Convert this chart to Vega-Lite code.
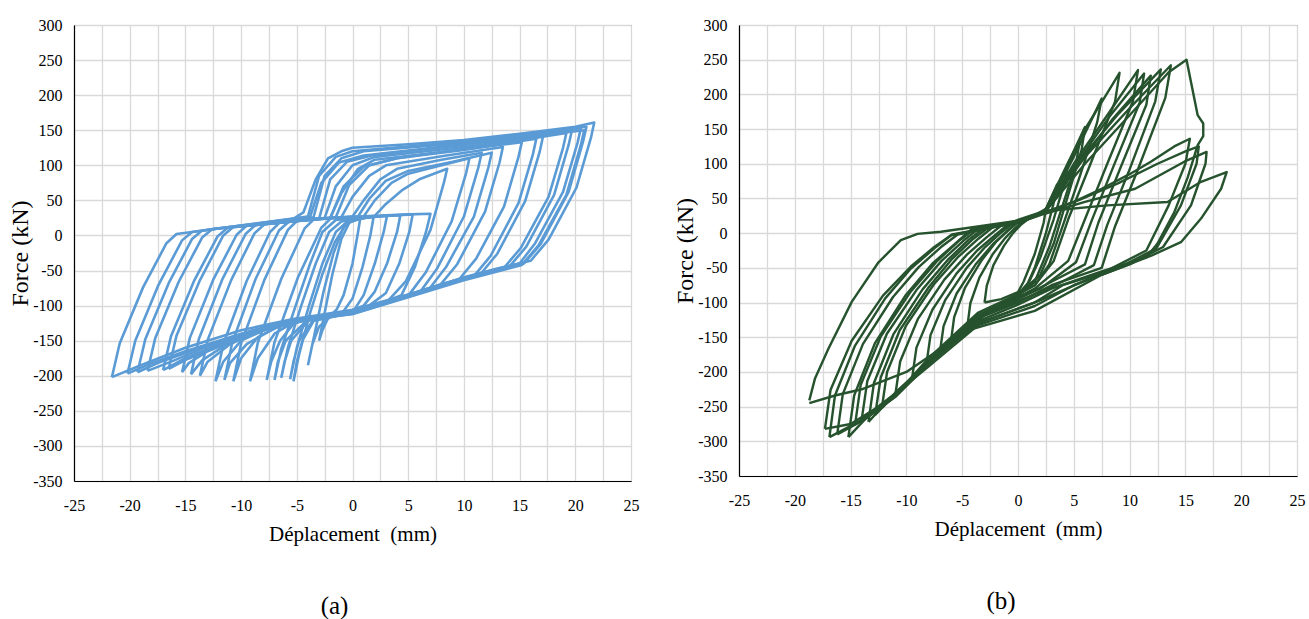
{
"$schema": "https://vega.github.io/schema/vega-lite/v6.json",
"background": "white",
"padding": {"left": 8, "top": 16, "right": 2, "bottom": 5},
"config": {
  "font": "Liberation Serif, Times New Roman, DejaVu Serif, serif",
  "view": {"stroke": "#595959", "strokeWidth": 1},
  "axis": {"labelFont": "Liberation Serif, Times New Roman, DejaVu Serif, serif", "titleFont": "Liberation Serif, Times New Roman, DejaVu Serif, serif", "labelFontSize": 16, "labelColor": "#000", "titleColor": "#000", "titleFontWeight": "normal", "gridColor": "#d9d9d9", "gridWidth": 1.3, "domainColor": "#000", "domainWidth": 1.2, "ticks": false, "labelOverlap": false, "labelFlush": false},
  "title": {"font": "Liberation Serif, Times New Roman, DejaVu Serif, serif", "fontSize": 25, "fontWeight": "normal", "color": "#000"}
},
"datasets": {
"a": [
{"c":1,"x":-3,"y":-150},{"c":1,"x":-2.5,"y":-110},{"c":1,"x":-1.8,"y":-55},{"c":1,"x":-1,"y":-5},{"c":1,"x":-0.3,"y":18},{"c":1,"x":0.7,"y":25},{"c":1,"x":0.5,"y":5},{"c":1,"x":0,"y":-40},{"c":1,"x":-0.8,"y":-85},{"c":1,"x":-1.4,"y":-105},{"c":1,"x":-2.2,"y":-118},{"c":1,"x":-2.7,"y":-135},{"c":1,"x":-3,"y":-150},
{"c":2,"x":-4,"y":-185},{"c":2,"x":-3.4,"y":-140},{"c":2,"x":-2.6,"y":-80},{"c":2,"x":-1.7,"y":-25},{"c":2,"x":-0.8,"y":12},{"c":2,"x":0,"y":22},{"c":2,"x":1.9,"y":27},{"c":2,"x":1.6,"y":0},{"c":2,"x":0.9,"y":-45},{"c":2,"x":0,"y":-90},{"c":2,"x":-0.8,"y":-108},{"c":2,"x":-2,"y":-116},{"c":2,"x":-3,"y":-130},{"c":2,"x":-3.6,"y":-155},{"c":2,"x":-4,"y":-185},
{"c":3,"x":-5.3,"y":-208},{"c":3,"x":-4.8,"y":-170},{"c":3,"x":-3.8,"y":-110},{"c":3,"x":-2.7,"y":-55},{"c":3,"x":-1.6,"y":-10},{"c":3,"x":-0.5,"y":18},{"c":3,"x":1,"y":25},{"c":3,"x":3.1,"y":28},{"c":3,"x":2.8,"y":5},{"c":3,"x":2,"y":-40},{"c":3,"x":1,"y":-85},{"c":3,"x":0.2,"y":-105},{"c":3,"x":-1.5,"y":-115},{"c":3,"x":-3.5,"y":-122},{"c":3,"x":-4.5,"y":-150},{"c":3,"x":-5,"y":-180},{"c":3,"x":-5.3,"y":-208},
{"c":4,"x":-5.6,"y":-205},{"c":4,"x":-5,"y":-160},{"c":4,"x":-3.9,"y":-100},{"c":4,"x":-2.7,"y":-40},{"c":4,"x":-1.5,"y":5},{"c":4,"x":-0.3,"y":22},{"c":4,"x":2,"y":27},{"c":4,"x":4.3,"y":29},{"c":4,"x":4,"y":5},{"c":4,"x":3.1,"y":-40},{"c":4,"x":2,"y":-80},{"c":4,"x":1,"y":-100},{"c":4,"x":-1,"y":-113},{"c":4,"x":-3.5,"y":-120},{"c":4,"x":-4.8,"y":-150},{"c":4,"x":-5.3,"y":-180},{"c":4,"x":-5.6,"y":-205},
{"c":5,"x":-6.4,"y":-203},{"c":5,"x":-5.8,"y":-160},{"c":5,"x":-4.6,"y":-100},{"c":5,"x":-3.3,"y":-40},{"c":5,"x":-2.1,"y":5},{"c":5,"x":-1,"y":20},{"c":5,"x":2,"y":27},{"c":5,"x":5.4,"y":30},{"c":5,"x":5.1,"y":5},{"c":5,"x":4.2,"y":-40},{"c":5,"x":3,"y":-82},{"c":5,"x":1.5,"y":-100},{"c":5,"x":-1,"y":-112},{"c":5,"x":-4,"y":-122},{"c":5,"x":-5.5,"y":-150},{"c":5,"x":-6.1,"y":-180},{"c":5,"x":-6.4,"y":-203},
{"c":6,"x":-7,"y":-206},{"c":6,"x":-6.4,"y":-162},{"c":6,"x":-5.1,"y":-100},{"c":6,"x":-3.8,"y":-40},{"c":6,"x":-2.7,"y":5},{"c":6,"x":-1.5,"y":22},{"c":6,"x":2,"y":28},{"c":6,"x":5,"y":30},{"c":6,"x":7,"y":31},{"c":6,"x":6.6,"y":5},{"c":6,"x":5.6,"y":-45},{"c":6,"x":4.4,"y":-85},{"c":6,"x":2.5,"y":-97},{"c":6,"x":0,"y":-110},{"c":6,"x":-4,"y":-120},{"c":6,"x":-6,"y":-150},{"c":6,"x":-6.7,"y":-180},{"c":6,"x":-7,"y":-206},
{"c":7,"x":-7.7,"y":-206},{"c":7,"x":-7,"y":-152},{"c":7,"x":-4.9,"y":-60},{"c":7,"x":-2.8,"y":11},{"c":7,"x":-1.9,"y":25},{"c":7,"x":2,"y":28},{"c":7,"x":3,"y":45},{"c":7,"x":4.5,"y":65},{"c":7,"x":6,"y":80},{"c":7,"x":8.5,"y":95},{"c":7,"x":8.2,"y":75},{"c":7,"x":7,"y":8},{"c":7,"x":4.8,"y":-65},{"c":7,"x":3.2,"y":-93},{"c":7,"x":0,"y":-108},{"c":7,"x":-3,"y":-116},{"c":7,"x":-5,"y":-120},{"c":7,"x":-6.5,"y":-150},{"c":7,"x":-7.3,"y":-180},{"c":7,"x":-7.7,"y":-206},
{"c":8,"x":-9.2,"y":-208},{"c":8,"x":-8.5,"y":-153},{"c":8,"x":-6.4,"y":-62},{"c":8,"x":-4.3,"y":10},{"c":8,"x":-3.4,"y":24},{"c":8,"x":1,"y":27},{"c":8,"x":2,"y":50},{"c":8,"x":3.5,"y":75},{"c":8,"x":5,"y":88},{"c":8,"x":8,"y":100},{"c":8,"x":10.5,"y":110},{"c":8,"x":10.2,"y":89},{"c":8,"x":8.9,"y":20},{"c":8,"x":6.6,"y":-52},{"c":8,"x":5.1,"y":-84},{"c":8,"x":2.5,"y":-98},{"c":8,"x":0,"y":-110},{"c":8,"x":-3,"y":-117},{"c":8,"x":-5,"y":-121},{"c":8,"x":-7,"y":-140},{"c":8,"x":-8.5,"y":-175},{"c":8,"x":-9.2,"y":-208},
{"c":9,"x":-10.7,"y":-208},{"c":9,"x":-10,"y":-154},{"c":9,"x":-7.9,"y":-63},{"c":9,"x":-5.8,"y":8},{"c":9,"x":-4.9,"y":22},{"c":9,"x":0,"y":27},{"c":9,"x":1,"y":50},{"c":9,"x":2.5,"y":80},{"c":9,"x":4,"y":95},{"c":9,"x":8,"y":108},{"c":9,"x":11.6,"y":118},{"c":9,"x":11.3,"y":97},{"c":9,"x":10,"y":27},{"c":9,"x":7.6,"y":-47},{"c":9,"x":6.1,"y":-80},{"c":9,"x":3,"y":-95},{"c":9,"x":0,"y":-109},{"c":9,"x":-4,"y":-119},{"c":9,"x":-6,"y":-125},{"c":9,"x":-8.5,"y":-145},{"c":9,"x":-10,"y":-175},{"c":9,"x":-10.7,"y":-208},
{"c":10,"x":-12.3,"y":-208},{"c":10,"x":-11.6,"y":-155},{"c":10,"x":-9.5,"y":-65},{"c":10,"x":-7.4,"y":5},{"c":10,"x":-6.5,"y":19},{"c":10,"x":-1,"y":26},{"c":10,"x":0,"y":55},{"c":10,"x":1.5,"y":85},{"c":10,"x":3,"y":100},{"c":10,"x":8,"y":113},{"c":10,"x":13.5,"y":126},{"c":10,"x":13.2,"y":104},{"c":10,"x":11.9,"y":34},{"c":10,"x":9.4,"y":-41},{"c":10,"x":7.9,"y":-70},{"c":10,"x":4,"y":-90},{"c":10,"x":0,"y":-108},{"c":10,"x":-4,"y":-118},{"c":10,"x":-7,"y":-128},{"c":10,"x":-10,"y":-150},{"c":10,"x":-11.6,"y":-180},{"c":10,"x":-12.3,"y":-208},
{"c":11,"x":-13.7,"y":-200},{"c":11,"x":-13,"y":-149},{"c":11,"x":-10.9,"y":-64},{"c":11,"x":-8.8,"y":3},{"c":11,"x":-7.9,"y":16},{"c":11,"x":-2,"y":25},{"c":11,"x":-1,"y":60},{"c":11,"x":0.5,"y":95},{"c":11,"x":2,"y":108},{"c":11,"x":8,"y":119},{"c":11,"x":15.2,"y":133},{"c":11,"x":14.9,"y":112},{"c":11,"x":13.6,"y":41},{"c":11,"x":11.1,"y":-33},{"c":11,"x":9.6,"y":-62},{"c":11,"x":5,"y":-86},{"c":11,"x":0,"y":-109},{"c":11,"x":-5,"y":-120},{"c":11,"x":-8,"y":-133},{"c":11,"x":-11,"y":-155},{"c":11,"x":-13,"y":-180},{"c":11,"x":-13.7,"y":-200},
{"c":12,"x":-15.3,"y":-195},{"c":12,"x":-14.6,"y":-146},{"c":12,"x":-12.5,"y":-63},{"c":12,"x":-10.4,"y":1},{"c":12,"x":-9.5,"y":14},{"c":12,"x":-2.5,"y":25},{"c":12,"x":-1.5,"y":70},{"c":12,"x":0,"y":100},{"c":12,"x":2,"y":112},{"c":12,"x":10,"y":126},{"c":12,"x":17.1,"y":141},{"c":12,"x":16.8,"y":119},{"c":12,"x":15.5,"y":49},{"c":12,"x":13,"y":-26},{"c":12,"x":11.5,"y":-55},{"c":12,"x":7,"y":-76},{"c":12,"x":2,"y":-100},{"c":12,"x":-2,"y":-114},{"c":12,"x":-6,"y":-125},{"c":12,"x":-10,"y":-145},{"c":12,"x":-13,"y":-165},{"c":12,"x":-14.7,"y":-182},{"c":12,"x":-15.3,"y":-195},
{"c":13,"x":-17,"y":-192},{"c":13,"x":-16.3,"y":-144},{"c":13,"x":-14.2,"y":-64},{"c":13,"x":-12.1,"y":-1},{"c":13,"x":-11.2,"y":11},{"c":13,"x":-3,"y":24},{"c":13,"x":-2,"y":80},{"c":13,"x":-0.5,"y":105},{"c":13,"x":2,"y":115},{"c":13,"x":10,"y":129},{"c":13,"x":19.7,"y":150},{"c":13,"x":19.4,"y":129},{"c":13,"x":18.1,"y":58},{"c":13,"x":15.6,"y":-16},{"c":13,"x":14.1,"y":-44},{"c":13,"x":10,"y":-62},{"c":13,"x":5,"y":-86},{"c":13,"x":0,"y":-110},{"c":13,"x":-4,"y":-118},{"c":13,"x":-8,"y":-132},{"c":13,"x":-12,"y":-155},{"c":13,"x":-15,"y":-175},{"c":13,"x":-17,"y":-192},
{"c":14,"x":-18.4,"y":-193},{"c":14,"x":-17.7,"y":-146},{"c":14,"x":-15.6,"y":-66},{"c":14,"x":-13.5,"y":-3},{"c":14,"x":-12.6,"y":9},{"c":14,"x":-3.5,"y":26},{"c":14,"x":-2.5,"y":85},{"c":14,"x":-1,"y":110},{"c":14,"x":1,"y":120},{"c":14,"x":10,"y":132},{"c":14,"x":20.5,"y":153},{"c":14,"x":20.2,"y":132},{"c":14,"x":18.9,"y":62},{"c":14,"x":16.4,"y":-11},{"c":14,"x":15,"y":-40},{"c":14,"x":10,"y":-60},{"c":14,"x":5,"y":-84},{"c":14,"x":0,"y":-106},{"c":14,"x":-4,"y":-116},{"c":14,"x":-9,"y":-135},{"c":14,"x":-13,"y":-158},{"c":14,"x":-16,"y":-178},{"c":14,"x":-18.4,"y":-193},
{"c":15,"x":-20.2,"y":-197},{"c":15,"x":-19.5,"y":-150},{"c":15,"x":-17.4,"y":-70},{"c":15,"x":-15.3,"y":-7},{"c":15,"x":-14.4,"y":5},{"c":15,"x":-4,"y":27},{"c":15,"x":-3,"y":85},{"c":15,"x":-1.5,"y":112},{"c":15,"x":0,"y":120},{"c":15,"x":10,"y":134},{"c":15,"x":21,"y":155},{"c":15,"x":20.7,"y":134},{"c":15,"x":19.4,"y":62},{"c":15,"x":16.9,"y":-12},{"c":15,"x":15.4,"y":-40},{"c":15,"x":10,"y":-62},{"c":15,"x":5,"y":-87},{"c":15,"x":0,"y":-110},{"c":15,"x":-4,"y":-118},{"c":15,"x":-10,"y":-140},{"c":15,"x":-15,"y":-165},{"c":15,"x":-18,"y":-182},{"c":15,"x":-20.2,"y":-197},
{"c":16,"x":-21.6,"y":-202},{"c":16,"x":-20.9,"y":-154},{"c":16,"x":-18.8,"y":-74},{"c":16,"x":-16.7,"y":-11},{"c":16,"x":-15.8,"y":2},{"c":16,"x":-12,"y":10},{"c":16,"x":-8,"y":16},{"c":16,"x":-5.5,"y":22},{"c":16,"x":-4.4,"y":33},{"c":16,"x":-3.3,"y":80},{"c":16,"x":-2.2,"y":110},{"c":16,"x":-1,"y":120},{"c":16,"x":0,"y":125},{"c":16,"x":5,"y":130},{"c":16,"x":10,"y":136},{"c":16,"x":15,"y":145},{"c":16,"x":20,"y":155},{"c":16,"x":21.7,"y":161},{"c":16,"x":21.4,"y":139},{"c":16,"x":20.1,"y":68},{"c":16,"x":17.6,"y":-6},{"c":16,"x":16,"y":-36},{"c":16,"x":13,"y":-47},{"c":16,"x":10,"y":-60},{"c":16,"x":5,"y":-85},{"c":16,"x":0,"y":-108},{"c":16,"x":-3,"y":-115},{"c":16,"x":-5,"y":-118},{"c":16,"x":-10,"y":-135},{"c":16,"x":-15,"y":-160},{"c":16,"x":-19,"y":-185},{"c":16,"x":-21.6,"y":-202},
{"c":17,"x":-16.5,"y":-190},{"c":17,"x":-15.8,"y":-143},{"c":17,"x":-13.7,"y":-64},{"c":17,"x":-11.6,"y":0},{"c":17,"x":-10.7,"y":12},{"c":17,"x":-2,"y":25},{"c":17,"x":-0.8,"y":70},{"c":17,"x":1,"y":98},{"c":17,"x":4,"y":110},{"c":17,"x":12,"y":128},{"c":17,"x":19.2,"y":146},{"c":17,"x":18.9,"y":125},{"c":17,"x":17.6,"y":55},{"c":17,"x":15.1,"y":-18},{"c":17,"x":13.6,"y":-46},{"c":17,"x":9,"y":-66},{"c":17,"x":4,"y":-92},{"c":17,"x":0,"y":-112},{"c":17,"x":-4,"y":-120},{"c":17,"x":-8,"y":-135},{"c":17,"x":-12,"y":-158},{"c":17,"x":-14.8,"y":-176},{"c":17,"x":-16.5,"y":-190},
{"c":18,"x":-14.5,"y":-198},{"c":18,"x":-13.8,"y":-148},{"c":18,"x":-11.7,"y":-63},{"c":18,"x":-9.6,"y":2},{"c":18,"x":-8.7,"y":15},{"c":18,"x":-1.5,"y":26},{"c":18,"x":-0.3,"y":72},{"c":18,"x":1.5,"y":100},{"c":18,"x":4,"y":110},{"c":18,"x":10,"y":122},{"c":18,"x":16.5,"y":138},{"c":18,"x":16.2,"y":116},{"c":18,"x":14.9,"y":46},{"c":18,"x":12.4,"y":-29},{"c":18,"x":10.9,"y":-58},{"c":18,"x":6,"y":-80},{"c":18,"x":1,"y":-104},{"c":18,"x":-3,"y":-116},{"c":18,"x":-7,"y":-130},{"c":18,"x":-11,"y":-152},{"c":18,"x":-13.5,"y":-178},{"c":18,"x":-14.5,"y":-198},
{"c":19,"x":-11.5,"y":-206},{"c":19,"x":-10.8,"y":-153},{"c":19,"x":-8.7,"y":-62},{"c":19,"x":-6.6,"y":7},{"c":19,"x":-5.7,"y":20},{"c":19,"x":0.5,"y":27},{"c":19,"x":1.5,"y":52},{"c":19,"x":3,"y":78},{"c":19,"x":5,"y":92},{"c":19,"x":9,"y":105},{"c":19,"x":12.5,"y":118},{"c":19,"x":12.2,"y":97},{"c":19,"x":10.9,"y":27},{"c":19,"x":8.4,"y":-45},{"c":19,"x":6.9,"y":-76},{"c":19,"x":3,"y":-96},{"c":19,"x":0,"y":-110},{"c":19,"x":-4,"y":-120},{"c":19,"x":-7,"y":-132},{"c":19,"x":-9.5,"y":-155},{"c":19,"x":-11,"y":-182},{"c":19,"x":-11.5,"y":-206},
{"c":20,"x":-19.3,"y":-195},{"c":20,"x":-18.6,"y":-148},{"c":20,"x":-16.5,"y":-68},{"c":20,"x":-14.4,"y":-5},{"c":20,"x":-13.5,"y":7},{"c":20,"x":-3.8,"y":27},{"c":20,"x":-2.8,"y":75},{"c":20,"x":-1.2,"y":104},{"c":20,"x":1,"y":114},{"c":20,"x":10,"y":130},{"c":20,"x":20.8,"y":150},{"c":20,"x":20.5,"y":129},{"c":20,"x":19.2,"y":58},{"c":20,"x":16.7,"y":-14},{"c":20,"x":15.2,"y":-42},{"c":20,"x":10,"y":-64},{"c":20,"x":5,"y":-88},{"c":20,"x":0,"y":-112},{"c":20,"x":-4,"y":-120},{"c":20,"x":-9,"y":-138},{"c":20,"x":-14,"y":-162},{"c":20,"x":-17.5,"y":-182},{"c":20,"x":-19.3,"y":-195}
],
"b": [
{"c":1,"x":-3,"y":-100},{"c":1,"x":-2.8,"y":-76},{"c":1,"x":-2.2,"y":-46},{"c":1,"x":-1.25,"y":-18},{"c":1,"x":-0.45,"y":0},{"c":1,"x":0.25,"y":12},{"c":1,"x":0.8,"y":19},{"c":1,"x":2.5,"y":35},{"c":1,"x":2.3,"y":15},{"c":1,"x":1.5,"y":-30},{"c":1,"x":0.5,"y":-70},{"c":1,"x":0,"y":-85},{"c":1,"x":-1.5,"y":-95},{"c":1,"x":-3,"y":-100},
{"c":2,"x":-4.5,"y":-130},{"c":2,"x":-4.27,"y":-101},{"c":2,"x":-3.46,"y":-64},{"c":2,"x":-2.25,"y":-30},{"c":2,"x":-1.2,"y":-8},{"c":2,"x":-0.3,"y":7},{"c":2,"x":0.4,"y":17},{"c":2,"x":2.4,"y":30},{"c":2,"x":3,"y":52},{"c":2,"x":3.5,"y":70},{"c":2,"x":3.3,"y":50},{"c":2,"x":2.5,"y":0},{"c":2,"x":1.5,"y":-50},{"c":2,"x":0.8,"y":-75},{"c":2,"x":0,"y":-90},{"c":2,"x":-2,"y":-108},{"c":2,"x":-3.5,"y":-122},{"c":2,"x":-4.5,"y":-130},
{"c":3,"x":-6,"y":-155},{"c":3,"x":-5.72,"y":-121},{"c":3,"x":-4.73,"y":-78},{"c":3,"x":-3.25,"y":-39},{"c":3,"x":-2,"y":-13},{"c":3,"x":-0.9,"y":4},{"c":3,"x":-0.1,"y":16},{"c":3,"x":2.4,"y":30},{"c":3,"x":3.5,"y":65},{"c":3,"x":4.5,"y":100},{"c":3,"x":4.2,"y":75},{"c":3,"x":3.2,"y":20},{"c":3,"x":2,"y":-35},{"c":3,"x":1,"y":-70},{"c":3,"x":0,"y":-88},{"c":3,"x":-2,"y":-106},{"c":3,"x":-4,"y":-128},{"c":3,"x":-6,"y":-155},
{"c":4,"x":-7,"y":-172},{"c":4,"x":-6.67,"y":-134},{"c":4,"x":-5.5,"y":-87},{"c":4,"x":-3.75,"y":-44},{"c":4,"x":-2.25,"y":-16},{"c":4,"x":-0.95,"y":3},{"c":4,"x":0,"y":16},{"c":4,"x":2.4,"y":30},{"c":4,"x":4,"y":80},{"c":4,"x":5.5,"y":130},{"c":4,"x":5.2,"y":100},{"c":4,"x":4,"y":40},{"c":4,"x":2.8,"y":-20},{"c":4,"x":1.5,"y":-70},{"c":4,"x":0,"y":-90},{"c":4,"x":-2,"y":-107},{"c":4,"x":-4,"y":-130},{"c":4,"x":-5.5,"y":-150},{"c":4,"x":-7,"y":-172},
{"c":5,"x":-8.2,"y":-188},{"c":5,"x":-7.84,"y":-147},{"c":5,"x":-6.54,"y":-97},{"c":5,"x":-4.6,"y":-50},{"c":5,"x":-2.94,"y":-20},{"c":5,"x":-1.5,"y":1},{"c":5,"x":-0.42,"y":15},{"c":5,"x":2.4,"y":30},{"c":5,"x":4.2,"y":90},{"c":5,"x":6,"y":153},{"c":5,"x":5.7,"y":120},{"c":5,"x":4.5,"y":55},{"c":5,"x":3.2,"y":-15},{"c":5,"x":2,"y":-60},{"c":5,"x":0,"y":-88},{"c":5,"x":-2,"y":-106},{"c":5,"x":-4,"y":-130},{"c":5,"x":-6,"y":-158},{"c":5,"x":-8.2,"y":-188},
{"c":6,"x":-9.5,"y":-210},{"c":6,"x":-9.1,"y":-165},{"c":6,"x":-7.66,"y":-110},{"c":6,"x":-5.5,"y":-58},{"c":6,"x":-3.66,"y":-25},{"c":6,"x":-2.06,"y":-3},{"c":6,"x":-0.86,"y":13},{"c":6,"x":2.4,"y":30},{"c":6,"x":5,"y":110},{"c":6,"x":7.5,"y":194},{"c":6,"x":7.1,"y":160},{"c":6,"x":5.5,"y":80},{"c":6,"x":4,"y":10},{"c":6,"x":2.8,"y":-45},{"c":6,"x":1.5,"y":-75},{"c":6,"x":0,"y":-88},{"c":6,"x":-3.6,"y":-120},{"c":6,"x":-6.5,"y":-165},{"c":6,"x":-9.5,"y":-210},
{"c":7,"x":-11,"y":-234},{"c":7,"x":-10.56,"y":-185},{"c":7,"x":-8.98,"y":-124},{"c":7,"x":-6.6,"y":-67},{"c":7,"x":-4.58,"y":-31},{"c":7,"x":-2.82,"y":-6},{"c":7,"x":-1.5,"y":11},{"c":7,"x":2.4,"y":32},{"c":7,"x":4.5,"y":102},{"c":7,"x":6,"y":150},{"c":7,"x":7.5,"y":189},{"c":7,"x":9.1,"y":231},{"c":7,"x":8.7,"y":190},{"c":7,"x":6.5,"y":100},{"c":7,"x":4.5,"y":20},{"c":7,"x":3.2,"y":-40},{"c":7,"x":1.5,"y":-75},{"c":7,"x":0,"y":-88},{"c":7,"x":-3.6,"y":-115},{"c":7,"x":-8,"y":-180},{"c":7,"x":-11,"y":-234},
{"c":8,"x":-12.2,"y":-252},{"c":8,"x":-11.73,"y":-200},{"c":8,"x":-10.06,"y":-134},{"c":8,"x":-7.55,"y":-74},{"c":8,"x":-5.41,"y":-35},{"c":8,"x":-3.55,"y":-8},{"c":8,"x":-2.16,"y":10},{"c":8,"x":0,"y":16},{"c":8,"x":2.4,"y":30},{"c":8,"x":5,"y":100},{"c":8,"x":8,"y":170},{"c":8,"x":10.75,"y":235},{"c":8,"x":10.3,"y":190},{"c":8,"x":8,"y":100},{"c":8,"x":6,"y":20},{"c":8,"x":4.5,"y":-40},{"c":8,"x":1.5,"y":-80},{"c":8,"x":0,"y":-92},{"c":8,"x":-3.6,"y":-118},{"c":8,"x":-8,"y":-184},{"c":8,"x":-12.2,"y":-252},
{"c":9,"x":-13.4,"y":-272},{"c":9,"x":-12.91,"y":-216},{"c":9,"x":-11.17,"y":-146},{"c":9,"x":-8.55,"y":-81},{"c":9,"x":-6.32,"y":-39},{"c":9,"x":-4.38,"y":-9},{"c":9,"x":-2.92,"y":9},{"c":9,"x":0,"y":16},{"c":9,"x":2.4,"y":30},{"c":9,"x":5.5,"y":100},{"c":9,"x":8.5,"y":165},{"c":9,"x":11.9,"y":227},{"c":9,"x":11.5,"y":185},{"c":9,"x":9.2,"y":95},{"c":9,"x":7.2,"y":15},{"c":9,"x":6,"y":-45},{"c":9,"x":3,"y":-70},{"c":9,"x":0,"y":-95},{"c":9,"x":-3.6,"y":-120},{"c":9,"x":-8,"y":-186},{"c":9,"x":-11,"y":-230},{"c":9,"x":-13.4,"y":-272},
{"c":10,"x":-14.6,"y":-276},{"c":10,"x":-14.1,"y":-219},{"c":10,"x":-12.3,"y":-149},{"c":10,"x":-9.6,"y":-84},{"c":10,"x":-7.3,"y":-41},{"c":10,"x":-5.3,"y":-11},{"c":10,"x":-3.8,"y":7},{"c":10,"x":0,"y":16},{"c":10,"x":2.4,"y":30},{"c":10,"x":6,"y":110},{"c":10,"x":10,"y":180},{"c":10,"x":13.7,"y":242},{"c":10,"x":13.2,"y":195},{"c":10,"x":10.7,"y":90},{"c":10,"x":8.7,"y":10},{"c":10,"x":7.5,"y":-50},{"c":10,"x":3,"y":-75},{"c":10,"x":0,"y":-100},{"c":10,"x":-3.6,"y":-123},{"c":10,"x":-8,"y":-186},{"c":10,"x":-11,"y":-232},{"c":10,"x":-14.6,"y":-276},
{"c":11,"x":-15.2,"y":-294},{"c":11,"x":-14.68,"y":-234},{"c":11,"x":-12.83,"y":-159},{"c":11,"x":-10.05,"y":-89},{"c":11,"x":-7.68,"y":-44},{"c":11,"x":-5.62,"y":-15},{"c":11,"x":-4.08,"y":7},{"c":11,"x":0,"y":16},{"c":11,"x":2.4,"y":30},{"c":11,"x":6,"y":100},{"c":11,"x":10,"y":170},{"c":11,"x":13.5,"y":232},{"c":11,"x":15.1,"y":250},{"c":11,"x":16.1,"y":170},{"c":11,"x":16.6,"y":158},{"c":11,"x":16.6,"y":140},{"c":11,"x":16.1,"y":127},{"c":11,"x":15.2,"y":80},{"c":11,"x":14,"y":30},{"c":11,"x":12.5,"y":-15},{"c":11,"x":11.5,"y":-35},{"c":11,"x":7.5,"y":-55},{"c":11,"x":3,"y":-80},{"c":11,"x":0,"y":-103},{"c":11,"x":-3.6,"y":-127},{"c":11,"x":-8,"y":-188},{"c":11,"x":-11,"y":-236},{"c":11,"x":-13.7,"y":-268},{"c":11,"x":-15.2,"y":-294},
{"c":12,"x":-16.9,"y":-294},{"c":12,"x":-16.4,"y":-234},{"c":12,"x":-14.6,"y":-162},{"c":12,"x":-11.9,"y":-94},{"c":12,"x":-9.6,"y":-51},{"c":12,"x":-7.5,"y":-22},{"c":12,"x":-6,"y":-3},{"c":12,"x":0,"y":16},{"c":12,"x":2.4,"y":30},{"c":12,"x":5,"y":45},{"c":12,"x":7.5,"y":64},{"c":12,"x":10,"y":85},{"c":12,"x":11.9,"y":103},{"c":12,"x":14,"y":125},{"c":12,"x":15.4,"y":136},{"c":12,"x":15,"y":100},{"c":12,"x":13.5,"y":40},{"c":12,"x":11.5,"y":-25},{"c":12,"x":7.5,"y":-58},{"c":12,"x":1.8,"y":-98},{"c":12,"x":-3.6,"y":-130},{"c":12,"x":-8.1,"y":-186},{"c":12,"x":-11,"y":-234},{"c":12,"x":-13.7,"y":-267},{"c":12,"x":-16.9,"y":-294},
{"c":13,"x":-17.3,"y":-282},{"c":13,"x":-16.8,"y":-226},{"c":13,"x":-14.9,"y":-155},{"c":13,"x":-12.1,"y":-90},{"c":13,"x":-9.6,"y":-48},{"c":13,"x":-7.5,"y":-20},{"c":13,"x":-5.9,"y":-2},{"c":13,"x":0,"y":15},{"c":13,"x":2.4,"y":28},{"c":13,"x":6,"y":45},{"c":13,"x":10.5,"y":64},{"c":13,"x":14.9,"y":103},{"c":13,"x":16.9,"y":117},{"c":13,"x":16.8,"y":100},{"c":13,"x":15.5,"y":40},{"c":13,"x":13,"y":-20},{"c":13,"x":10,"y":-45},{"c":13,"x":5,"y":-75},{"c":13,"x":1.5,"y":-105},{"c":13,"x":-3.6,"y":-133},{"c":13,"x":-8,"y":-192},{"c":13,"x":-12,"y":-245},{"c":13,"x":-15,"y":-275},{"c":13,"x":-17.3,"y":-282},
{"c":14,"x":-18.7,"y":-241},{"c":14,"x":-18.2,"y":-210},{"c":14,"x":-17,"y":-167},{"c":14,"x":-14.9,"y":-99},{"c":14,"x":-12.5,"y":-42},{"c":14,"x":-10.5,"y":-10},{"c":14,"x":-9,"y":-1},{"c":14,"x":-6.9,"y":2},{"c":14,"x":0,"y":18},{"c":14,"x":1.8,"y":26},{"c":14,"x":2.6,"y":32},{"c":14,"x":8,"y":40},{"c":14,"x":13.4,"y":45},{"c":14,"x":16.4,"y":74},{"c":14,"x":18.7,"y":88},{"c":14,"x":18.2,"y":64},{"c":14,"x":16.4,"y":21},{"c":14,"x":14.6,"y":-13},{"c":14,"x":12,"y":-32},{"c":14,"x":7.5,"y":-60},{"c":14,"x":1.5,"y":-112},{"c":14,"x":-4.5,"y":-140},{"c":14,"x":-10,"y":-200},{"c":14,"x":-14,"y":-225},{"c":14,"x":-16.4,"y":-234},{"c":14,"x":-18.7,"y":-245},
{"c":15,"x":-14,"y":-268},{"c":15,"x":-13.5,"y":-213},{"c":15,"x":-11.75,"y":-145},{"c":15,"x":-9.1,"y":-82},{"c":15,"x":-6.85,"y":-40},{"c":15,"x":-4.9,"y":-11},{"c":15,"x":-3.4,"y":8},{"c":15,"x":0,"y":16},{"c":15,"x":2.4,"y":30},{"c":15,"x":5.5,"y":105},{"c":15,"x":9,"y":172},{"c":15,"x":12.8,"y":236},{"c":15,"x":12.3,"y":190},{"c":15,"x":10,"y":92},{"c":15,"x":8,"y":12},{"c":15,"x":6.8,"y":-46},{"c":15,"x":3,"y":-78},{"c":15,"x":0,"y":-98},{"c":15,"x":-3.6,"y":-122},{"c":15,"x":-8,"y":-186},{"c":15,"x":-11,"y":-231},{"c":15,"x":-14,"y":-268},
{"c":16,"x":-12.8,"y":-262},{"c":16,"x":-12.3,"y":-208},{"c":16,"x":-10.6,"y":-140},{"c":16,"x":-8,"y":-78},{"c":16,"x":-5.9,"y":-37},{"c":16,"x":-4,"y":-8},{"c":16,"x":-2.5,"y":10},{"c":16,"x":0,"y":16},{"c":16,"x":2.4,"y":30},{"c":16,"x":5.2,"y":100},{"c":16,"x":8.2,"y":168},{"c":16,"x":11.3,"y":230},{"c":16,"x":10.9,"y":188},{"c":16,"x":8.6,"y":98},{"c":16,"x":6.6,"y":18},{"c":16,"x":5.2,"y":-42},{"c":16,"x":2,"y":-80},{"c":16,"x":0,"y":-94},{"c":16,"x":-3.6,"y":-120},{"c":16,"x":-8,"y":-186},{"c":16,"x":-11,"y":-232},{"c":16,"x":-12.8,"y":-262},
{"c":17,"x":-16.2,"y":-290},{"c":17,"x":-15.7,"y":-232},{"c":17,"x":-13.9,"y":-160},{"c":17,"x":-11.2,"y":-92},{"c":17,"x":-8.9,"y":-49},{"c":17,"x":-6.9,"y":-20},{"c":17,"x":-5.4,"y":-2},{"c":17,"x":0,"y":16},{"c":17,"x":2.4,"y":30},{"c":17,"x":5.5,"y":48},{"c":17,"x":9,"y":72},{"c":17,"x":12.5,"y":100},{"c":17,"x":15,"y":118},{"c":17,"x":16.2,"y":125},{"c":17,"x":16,"y":100},{"c":17,"x":14.6,"y":40},{"c":17,"x":12.4,"y":-22},{"c":17,"x":9,"y":-50},{"c":17,"x":4,"y":-75},{"c":17,"x":1.5,"y":-100},{"c":17,"x":-3.6,"y":-130},{"c":17,"x":-8,"y":-188},{"c":17,"x":-11,"y":-236},{"c":17,"x":-13.7,"y":-268},{"c":17,"x":-16.2,"y":-290}
]
},
"spacing": 33,
"hconcat": [
{
  "width": 557, "height": 456,
  "data": {"name": "a"},
  "title": {"text": "(a)", "orient": "bottom", "offset": 50, "dx": -18},
  "mark": {"type": "line", "color": "#5B9BD5", "strokeWidth": 2.6, "strokeJoin": "round"},
  "encoding": {
    "x": {"field": "x", "type": "quantitative", "scale": {"domain": [-25, 25], "nice": false, "zero": false},
      "axis": {"title": "Déplacement \u00a0(mm)", "titleFontSize": 21, "titlePadding": 10, "labelPadding": 16,
        "values": [-25,-22.5,-20,-17.5,-15,-12.5,-10,-7.5,-5,-2.5,0,2.5,5,7.5,10,12.5,15,17.5,20,22.5,25],
        "labelExpr": "datum.value % 5 === 0 ? '' + datum.value : ''"}},
    "y": {"field": "y", "type": "quantitative", "scale": {"domain": [-350, 300], "nice": false, "zero": false},
      "axis": {"title": "Force (kN)", "titleFontSize": 24, "titlePadding": 0, "labelPadding": 12,
        "values": [-350,-300,-250,-200,-150,-100,-50,0,50,100,150,200,250,300],
        "labelExpr": "'' + datum.value"}},
    "detail": {"field": "c", "type": "nominal"},
    "order": {"value": null}
  }
},
{
  "width": 558, "height": 451,
  "data": {"name": "b"},
  "title": {"text": "(b)", "orient": "bottom", "offset": 50, "dx": -17},
  "mark": {"type": "line", "color": "#26522D", "strokeWidth": 2.4, "strokeJoin": "round"},
  "encoding": {
    "x": {"field": "x", "type": "quantitative", "scale": {"domain": [-25, 25], "nice": false, "zero": false},
      "axis": {"title": "Déplacement \u00a0(mm)", "titleFontSize": 21, "titlePadding": 10, "labelPadding": 16,
        "values": [-25,-22.5,-20,-17.5,-15,-12.5,-10,-7.5,-5,-2.5,0,2.5,5,7.5,10,12.5,15,17.5,20,22.5,25],
        "labelExpr": "datum.value % 5 === 0 ? '' + datum.value : ''"}},
    "y": {"field": "y", "type": "quantitative", "scale": {"domain": [-350, 300], "nice": false, "zero": false},
      "axis": {"title": "Force (kN)", "titleFontSize": 24, "titlePadding": 0, "labelPadding": 12,
        "values": [-350,-300,-250,-200,-150,-100,-50,0,50,100,150,200,250,300],
        "labelExpr": "'' + datum.value"}},
    "detail": {"field": "c", "type": "nominal"},
    "order": {"value": null}
  }
}
]
}
